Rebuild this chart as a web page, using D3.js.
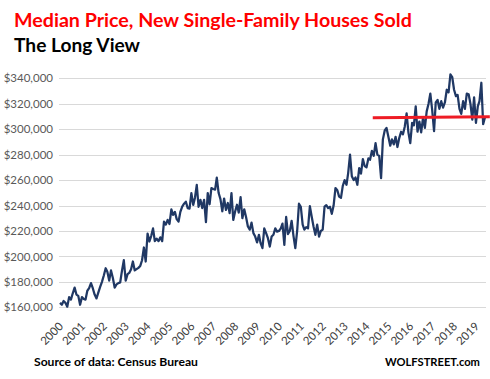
<!DOCTYPE html>
<html>
<head>
<meta charset="utf-8">
<script src="https://cdn.jsdelivr.net/npm/d3@7"></script>
<style>
  html, body { margin: 0; padding: 0; background: #ffffff; }
  svg { display: block; font-family: Lato, "Open Sans", sans-serif; }
</style>
</head>
<body>
<div id="chart"></div>
<script>
// ---------- DATA (monthly median price, thousands of $) ----------
const years = [2000, 2001, 2002, 2003, 2004, 2005, 2006, 2007, 2008, 2009,
               2010, 2011, 2012, 2013, 2014, 2015, 2016, 2017, 2018, 2019];
const v2000 = [163.5, 162, 165, 163.5, 160.5, 168, 166, 171, 175.5, 170, 169, 162];
const v2001 = [168, 166.5, 166, 173, 175, 179, 175, 170, 167, 171.5, 176, 180];
const v2002 = [185, 190.7, 188, 181, 189, 183, 175.5, 178, 179, 179.5, 189, 197];
const v2003 = [181, 186, 187, 190, 196, 189, 190, 191, 192.5, 197, 207, 196];
const v2004 = [218, 211.7, 216, 222, 212, 214, 212, 215, 212, 227.4, 225, 228.7];
const v2005 = [225.5, 237, 232.7, 235, 229.3, 227.4, 235, 239.2, 241.4, 243, 238, 237.5];
const v2006 = [249.8, 240.5, 246, 256.3, 239, 244.5, 238, 244.5, 227, 249.8, 241, 253.7];
const v2007 = [253, 252.5, 262, 249.8, 245, 235.5, 245.5, 236.5, 242, 234, 249.8, 228.7];
const v2008 = [235.3, 240.6, 234.5, 246.6, 230, 237, 231, 223.5, 221, 226.6, 218.3, 215.6];
const v2009 = [211, 217, 210.4, 206.5, 222, 218.3, 214.3, 207.7, 215.6, 217, 222, 219.5];
const v2010 = [220, 222, 225.8, 209, 231, 217.6, 220, 228, 216, 206.5, 220, 241.4];
const v2011 = [239, 225, 221, 223, 222, 239.5, 231.4, 223.5, 217, 225, 215.6, 220];
const v2012 = [221, 239.2, 240.3, 238, 239, 233.5, 240, 253.7, 252, 247, 246, 255.5];
const v2013 = [260, 256.3, 265.5, 280, 263, 260, 262, 256.3, 269.4, 265, 276.5, 271];
const v2014 = [270, 277, 276, 283, 279, 289, 280, 279, 261.5, 292, 299, 301];
const v2015 = [294, 287, 292, 288, 294, 286, 293, 298, 296, 302, 312.5, 297.5];
const v2016 = [289, 305, 303, 318, 298, 306, 297.5, 309, 301, 314, 320, 328];
const v2017 = [315, 298.5, 321, 323, 316, 322, 317, 321, 331, 329, 343, 341];
const v2018 = [331, 326, 327, 316, 312, 322, 316, 328, 327.5, 320, 307.5, 325];
const v2019 = [305, 318, 322, 336.5, 304, 309.5];
const yearValues = [v2000, v2001, v2002, v2003, v2004, v2005, v2006, v2007, v2008, v2009,
                    v2010, v2011, v2012, v2013, v2014, v2015, v2016, v2017, v2018, v2019];

// Red reference line (level of the latest reading)
const redLineDates  = ["2014-04-15", "2019-08-20"];
const redLineValues = [309000, 309700];

// Axis ticks
const yTicks = [160000, 180000, 200000, 220000, 240000, 260000, 280000, 300000, 320000, 340000];
const xTickLabels = years.map(String);

const titleText = "Median Price, New Single-Family Houses Sold";
const subtitleText = "The Long View";
const sourceText = "Source of data: Census Bureau";
const brandText = "WOLFSTREET.com";

// ---------- BUILD SERIES ----------
const series = [];
yearValues.forEach((vals, yi) => {
  vals.forEach((v, mi) => series.push({ date: new Date(years[yi], mi, 1), value: v * 1000 }));
});
const redLine = redLineDates.map((d, i) => ({ date: new Date(d), value: redLineValues[i] }));

// ---------- LAYOUT ----------
const W = 490, H = 379;
const svg = d3.select("#chart").append("svg").attr("width", W).attr("height", H);

const x = d3.scaleTime()
  .domain([new Date(2000, 0, 1), new Date(2019, 5, 1)])
  .range([60, 485]);
const y = d3.scaleLinear()
  .domain([160000, 340000])
  .range([307.3, 78.3]);

// gridlines
svg.append("g")
  .selectAll("line")
  .data(yTicks)
  .join("line")
  .attr("x1", 59).attr("x2", 486)
  .attr("y1", d => Math.round(y(d)) + 0.5)
  .attr("y2", d => Math.round(y(d)) + 0.5)
  .attr("stroke", "#d9d9d9").attr("stroke-width", 1);

// y axis labels
const fmt = d3.format("$,");
const yAxis = d3.axisLeft(y).tickValues(yTicks).tickFormat(d => fmt(d)).tickSize(0).tickPadding(0);
const yg = svg.append("g").attr("transform", "translate(53,0)").call(yAxis);
yg.select(".domain").remove();
yg.selectAll("text")
  .attr("fill", "#595959")
  .style("font-family", "Lato, sans-serif")
  .style("font-size", "11.5px");

// x axis labels (rotated)
const xTicks = years.map(yr => new Date(yr, 0, 1));
const xAxis = d3.axisBottom(x).tickValues(xTicks).tickFormat((d, i) => xTickLabels[i]).tickSize(0).tickPadding(0);
const xg = svg.append("g").attr("transform", "translate(0,0)").call(xAxis);
xg.select(".domain").remove();
xg.selectAll(".tick").attr("transform", d => `translate(${x(d) + 4},327)`);
xg.selectAll("text")
  .attr("y", 0).attr("dy", 0)
  .attr("text-anchor", "end")
  .attr("transform", "rotate(-45)")
  .attr("fill", "#404040")
  .style("font-family", "Lato, sans-serif")
  .style("font-size", "11.5px");

// main line
const line = d3.line().x(d => x(d.date)).y(d => y(d.value));
svg.append("path")
  .datum(series)
  .attr("d", line)
  .attr("fill", "none")
  .attr("stroke", "#203864")
  .attr("stroke-width", 2.25)
  .attr("stroke-linejoin", "round");

// red reference line
svg.append("path")
  .datum(redLine)
  .attr("d", line)
  .attr("fill", "none")
  .attr("stroke", "#ee1c25")
  .attr("stroke-width", 3);

// ---------- TEXTS ----------
function fit(sel, target) {
  const w = sel.node().getComputedTextLength();
  const fs = parseFloat(sel.style("font-size"));
  sel.style("font-size", (fs * target / w).toFixed(2) + "px");
}
const title = svg.append("text")
  .attr("x", 14).attr("y", 27.3)
  .attr("fill", "#ff0000")
  .style("font-weight", "bold").style("font-size", "20px")
  .text(titleText);
fit(title, 398);

const sub = svg.append("text")
  .attr("x", 14).attr("y", 52)
  .attr("fill", "#000000")
  .style("font-weight", "bold").style("font-size", "20px")
  .text(subtitleText);
fit(sub, 126);

const src = svg.append("text")
  .attr("x", 34).attr("y", 366)
  .attr("fill", "#000000")
  .style("font-weight", "bold").style("font-size", "13px")
  .text(sourceText);
fit(src, 164);

const brand = svg.append("text")
  .attr("x", 385).attr("y", 366)
  .attr("fill", "#000000")
  .style("font-weight", "bold").style("font-size", "13px")
  .text(brandText);
fit(brand, 95);
</script>
</body>
</html>
